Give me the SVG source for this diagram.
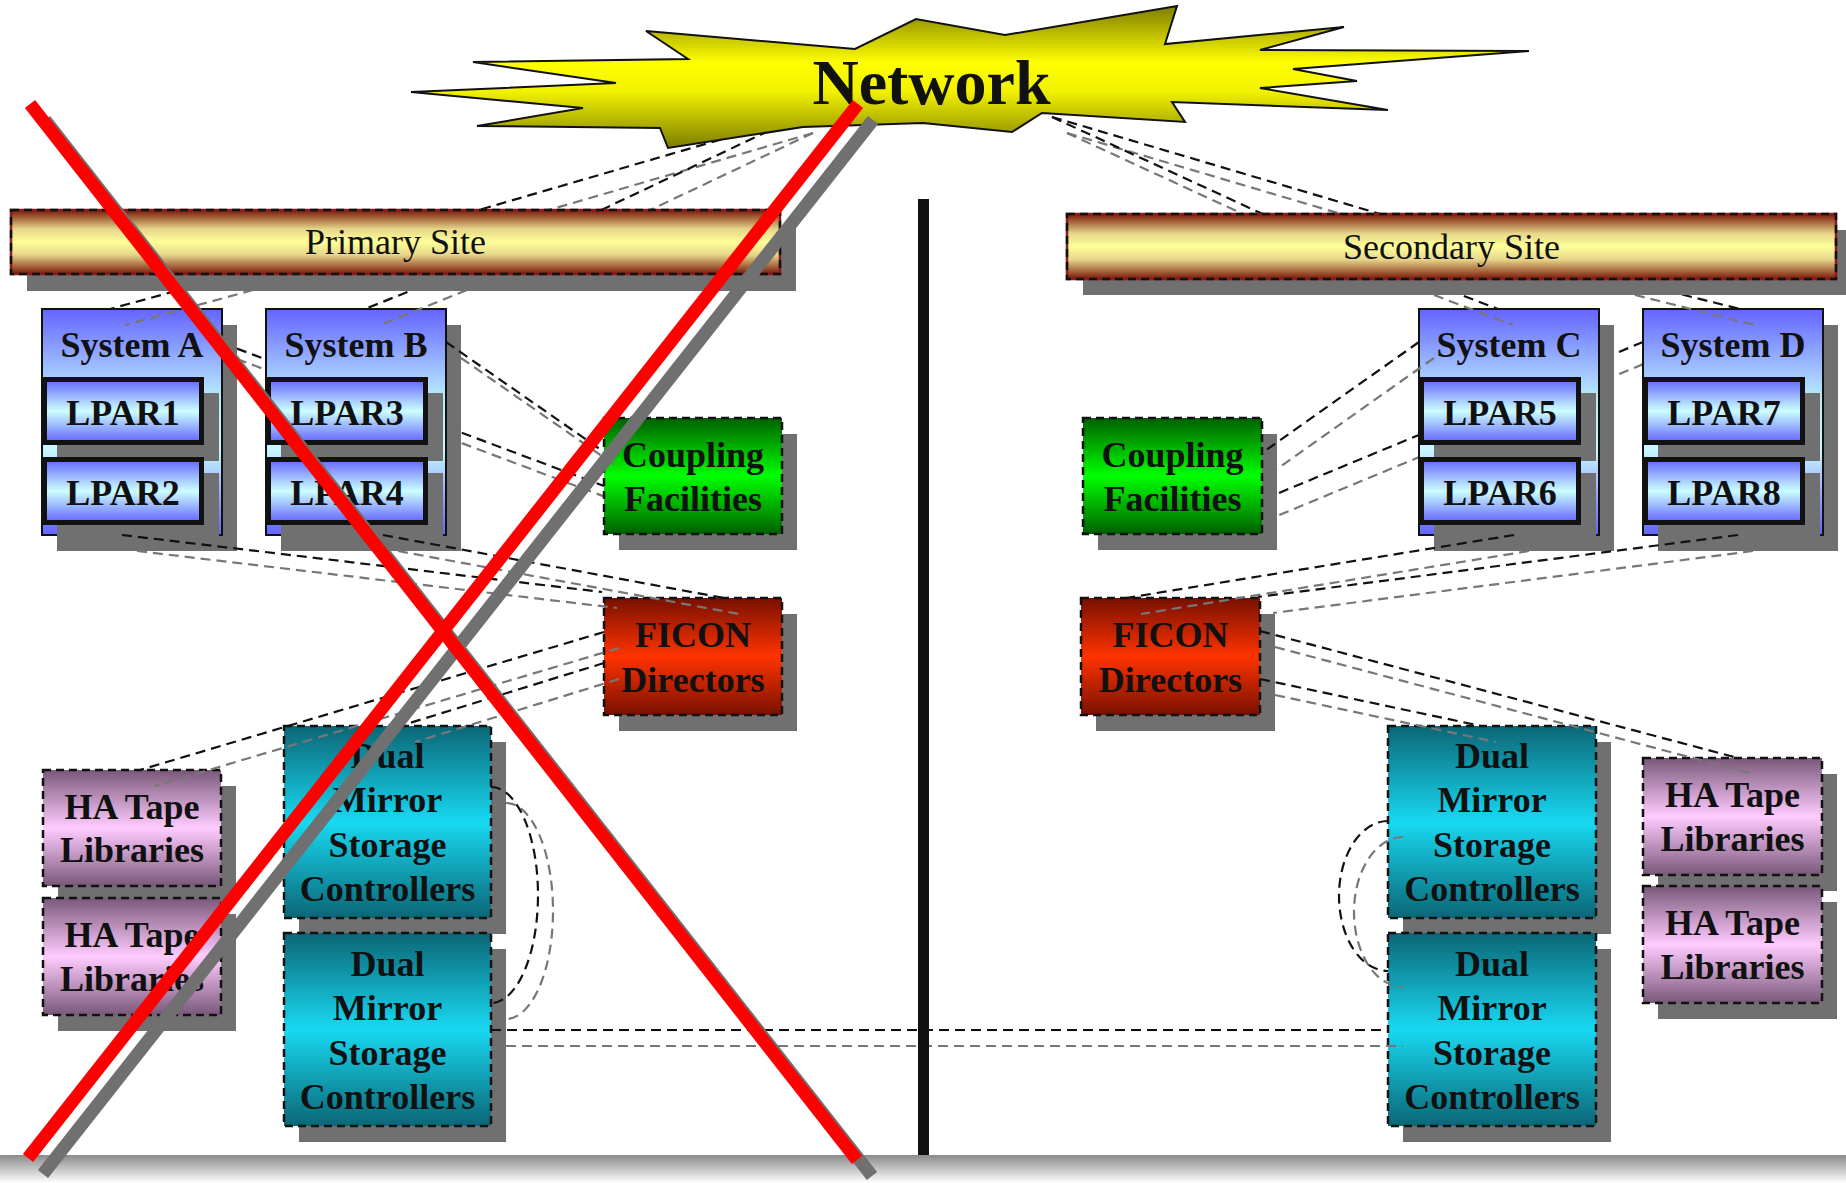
<svg xmlns="http://www.w3.org/2000/svg" width="1846" height="1183" viewBox="0 0 1846 1183">
<defs>
<linearGradient id="gSite" x1="0" y1="0" x2="0" y2="1"><stop offset="0" stop-color="#7a1808"/><stop offset="0.3" stop-color="#e6d68a"/><stop offset="0.5" stop-color="#ffff99"/><stop offset="0.7" stop-color="#e6d68a"/><stop offset="1" stop-color="#7a1808"/></linearGradient>
<linearGradient id="gNet" x1="0" y1="0" x2="0" y2="1"><stop offset="0" stop-color="#7d7d00"/><stop offset="0.4" stop-color="#ffff00"/><stop offset="0.6" stop-color="#f2f200"/><stop offset="1" stop-color="#7d7d00"/></linearGradient>
<linearGradient id="gSys" x1="0" y1="0" x2="0" y2="1"><stop offset="0" stop-color="#6464ff"/><stop offset="0.38" stop-color="#b8e8ff"/><stop offset="0.62" stop-color="#c8f8ff"/><stop offset="1" stop-color="#6464ff"/></linearGradient>
<linearGradient id="gLpar" x1="0" y1="0" x2="0" y2="1"><stop offset="0" stop-color="#6464ff"/><stop offset="0.5" stop-color="#ccffff"/><stop offset="1" stop-color="#6464ff"/></linearGradient>
<linearGradient id="gCf" x1="0" y1="0" x2="0" y2="1"><stop offset="0" stop-color="#006000"/><stop offset="0.5" stop-color="#00ff00"/><stop offset="1" stop-color="#006000"/></linearGradient>
<linearGradient id="gFicon" x1="0" y1="0" x2="0" y2="1"><stop offset="0" stop-color="#781000"/><stop offset="0.5" stop-color="#ff3300"/><stop offset="1" stop-color="#781000"/></linearGradient>
<linearGradient id="gTape" x1="0" y1="0" x2="0" y2="1"><stop offset="0" stop-color="#7a587a"/><stop offset="0.5" stop-color="#ffccff"/><stop offset="1" stop-color="#7a587a"/></linearGradient>
<linearGradient id="gDm" x1="0" y1="0" x2="0" y2="1"><stop offset="0" stop-color="#0b6676"/><stop offset="0.5" stop-color="#18d9f2"/><stop offset="1" stop-color="#0b6676"/></linearGradient>
<linearGradient id="gFloor" x1="0" y1="0" x2="0" y2="1"><stop offset="0" stop-color="#8a8a8a"/><stop offset="1" stop-color="#ffffff"/></linearGradient>
</defs>
<style>
.sh{fill:#707070}
.sys{stroke:#111;stroke-width:2;fill:url(#gSys)}
.lpar{stroke:#111;stroke-width:5;fill:url(#gLpar)}
.dash{stroke:#111;stroke-width:2.5;stroke-dasharray:8 5}
.cf{fill:url(#gCf)}
.ficon{fill:url(#gFicon)}
.tape{fill:url(#gTape)}
.dm{fill:url(#gDm)}
.siteb{fill:url(#gSite);stroke:#8b1a1a;stroke-width:2.5}
.t{font-family:"Liberation Serif","Times New Roman",serif;font-weight:bold;font-size:36px;fill:#111;text-anchor:middle}
.st{font-weight:normal}
.c{fill:none;stroke:#111;stroke-width:2.2;stroke-dasharray:10 6}
.cs{fill:none;stroke:#777;stroke-width:2.2;stroke-dasharray:10 6}
.x{stroke:#ff0000;stroke-width:13}
.xs{stroke:#707070;stroke-width:13}
</style>

<g id="connectors-back">
<g transform="translate(15,16)">
<path class="cs" d="M222,343 L604,486"/>
<path class="cs" d="M1643,342 L1262,500"/>
</g>
<path class="c" d="M222,343 L604,486"/>
<path class="c" d="M1643,342 L1262,500"/>
</g>

<g id="nodes">
<g id="system-a">
<rect class="sh" x="57" y="325" width="180" height="226"/>
<rect class="sys" x="42" y="309" width="180" height="226"/>
<text class="t" x="132" y="357">System A</text>
<g id="lpar1"><rect class="sh" x="57" y="393" width="162" height="68"/><rect class="lpar" x="44.5" y="379.5" width="157" height="63"/><text class="t" x="123" y="425">LPAR1</text></g>
<g id="lpar2"><rect class="sh" x="57" y="473" width="162" height="68"/><rect class="lpar" x="44.5" y="459.5" width="157" height="63"/><text class="t" x="123" y="505">LPAR2</text></g>
</g>
<g id="system-b">
<rect class="sh" x="281" y="325" width="180" height="226"/>
<rect class="sys" x="266" y="309" width="180" height="226"/>
<text class="t" x="356" y="357">System B</text>
<g id="lpar3"><rect class="sh" x="281" y="393" width="162" height="68"/><rect class="lpar" x="268.5" y="379.5" width="157" height="63"/><text class="t" x="347" y="425">LPAR3</text></g>
<g id="lpar4"><rect class="sh" x="281" y="473" width="162" height="68"/><rect class="lpar" x="268.5" y="459.5" width="157" height="63"/><text class="t" x="347" y="505">LPAR4</text></g>
</g>
<g id="system-c">
<rect class="sh" x="1434" y="325" width="180" height="226"/>
<rect class="sys" x="1419" y="309" width="180" height="226"/>
<text class="t" x="1509" y="357">System C</text>
<g id="lpar5"><rect class="sh" x="1434" y="393" width="162" height="68"/><rect class="lpar" x="1421.5" y="379.5" width="157" height="63"/><text class="t" x="1500" y="425">LPAR5</text></g>
<g id="lpar6"><rect class="sh" x="1434" y="473" width="162" height="68"/><rect class="lpar" x="1421.5" y="459.5" width="157" height="63"/><text class="t" x="1500" y="505">LPAR6</text></g>
</g>
<g id="system-d">
<rect class="sh" x="1658" y="325" width="180" height="226"/>
<rect class="sys" x="1643" y="309" width="180" height="226"/>
<text class="t" x="1733" y="357">System D</text>
<g id="lpar7"><rect class="sh" x="1658" y="393" width="162" height="68"/><rect class="lpar" x="1645.5" y="379.5" width="157" height="63"/><text class="t" x="1724" y="425">LPAR7</text></g>
<g id="lpar8"><rect class="sh" x="1658" y="473" width="162" height="68"/><rect class="lpar" x="1645.5" y="459.5" width="157" height="63"/><text class="t" x="1724" y="505">LPAR8</text></g>
</g>

<g id="cf-primary">
<rect class="sh" x="619" y="434" width="178" height="116"/>
<rect class="cf dash" x="604" y="418" width="178" height="116"/>
<text class="t" x="693" y="467">Coupling</text><text class="t" x="693" y="511">Facilities</text>
</g>
<g id="cf-secondary">
<rect class="sh" x="1098" y="434" width="179" height="116"/>
<rect class="cf dash" x="1083" y="418" width="179" height="116"/>
<text class="t" x="1172.5" y="467">Coupling</text><text class="t" x="1172.5" y="511">Facilities</text>
</g>
<g id="ficon-primary">
<rect class="sh" x="619" y="614" width="178" height="117"/>
<rect class="ficon dash" x="604" y="598" width="178" height="117"/>
<text class="t" x="693" y="647">FICON</text><text class="t" x="693" y="692">Directors</text>
</g>
<g id="ficon-secondary">
<rect class="sh" x="1096" y="614" width="179" height="117"/>
<rect class="ficon dash" x="1081" y="598" width="179" height="117"/>
<text class="t" x="1170.5" y="647">FICON</text><text class="t" x="1170.5" y="692">Directors</text>
</g>
<g id="tape-1">
<rect class="sh" x="58" y="786" width="178" height="116"/>
<rect class="tape dash" x="43" y="770" width="178" height="116"/>
<text class="t" x="132" y="819">HA Tape</text><text class="t" x="132" y="862">Libraries</text>
</g>
<g id="tape-2">
<rect class="sh" x="58" y="914" width="178" height="117"/>
<rect class="tape dash" x="43" y="898" width="178" height="117"/>
<text class="t" x="132" y="947">HA Tape</text><text class="t" x="132" y="991">Libraries</text>
</g>
<g id="tape-3">
<rect class="sh" x="1658" y="774" width="179" height="117"/>
<rect class="tape dash" x="1643" y="758" width="179" height="117"/>
<text class="t" x="1732.5" y="807">HA Tape</text><text class="t" x="1732.5" y="851">Libraries</text>
</g>
<g id="tape-4">
<rect class="sh" x="1658" y="902" width="179" height="117"/>
<rect class="tape dash" x="1643" y="886" width="179" height="117"/>
<text class="t" x="1732.5" y="935">HA Tape</text><text class="t" x="1732.5" y="979">Libraries</text>
</g>
<g id="dm-1">
<rect class="sh" x="299" y="742" width="207" height="192"/>
<rect class="dm dash" x="284" y="726" width="207" height="192"/>
<text class="t" x="387.5" y="768">Dual</text><text class="t" x="387.5" y="812">Mirror</text><text class="t" x="387.5" y="857">Storage</text><text class="t" x="387.5" y="901">Controllers</text>
</g>
<g id="dm-2">
<rect class="sh" x="299" y="949" width="207" height="193"/>
<rect class="dm dash" x="284" y="933" width="207" height="193"/>
<text class="t" x="387.5" y="976">Dual</text><text class="t" x="387.5" y="1020">Mirror</text><text class="t" x="387.5" y="1065">Storage</text><text class="t" x="387.5" y="1109">Controllers</text>
</g>
<g id="dm-3">
<rect class="sh" x="1403" y="742" width="208" height="192"/>
<rect class="dm dash" x="1388" y="726" width="208" height="192"/>
<text class="t" x="1492" y="768">Dual</text><text class="t" x="1492" y="812">Mirror</text><text class="t" x="1492" y="857">Storage</text><text class="t" x="1492" y="901">Controllers</text>
</g>
<g id="dm-4">
<rect class="sh" x="1403" y="949" width="208" height="193"/>
<rect class="dm dash" x="1388" y="933" width="208" height="193"/>
<text class="t" x="1492" y="976">Dual</text><text class="t" x="1492" y="1020">Mirror</text><text class="t" x="1492" y="1065">Storage</text><text class="t" x="1492" y="1109">Controllers</text>
</g>
</g>

<g id="connectors">
<g transform="translate(15,16)">
<path class="cs" d="M798,117 L472,212"/>
<path class="cs" d="M798,117 L597,212"/>
<path class="cs" d="M1052,117 L1267,216"/>
<path class="cs" d="M1052,117 L1387,216"/>
<path class="cs" d="M238,274 L110,309"/>
<path class="cs" d="M452,274 L365,309"/>
<path class="cs" d="M1419,279 L1498,309"/>
<path class="cs" d="M1620,279 L1740,309"/>
<path class="cs" d="M446,342 L604,452"/>
<path class="cs" d="M1419,342 L1262,453"/>
<path class="cs" d="M122,535 L602,592"/>
<path class="cs" d="M383,535 L724,598"/>
<path class="cs" d="M1514,535 L1126,598"/>
<path class="cs" d="M1738,535 L1258,597"/>
<path class="cs" d="M604,632 L140,770"/>
<path class="cs" d="M604,663 L400,726"/>
<path class="cs" d="M1260,631 L1738,758"/>
<path class="cs" d="M1260,679 L1481,726"/>
<path class="cs" d="M491,787 A47,108 0 0 1 491,1003"/>
<path class="cs" d="M1388,821 A49,75 0 0 0 1388,971"/>
<path class="cs" d="M491,1030 L1388,1030"/>
</g>
<path class="c" d="M798,117 L472,212"/>
<path class="c" d="M798,117 L597,212"/>
<path class="c" d="M1052,117 L1267,216"/>
<path class="c" d="M1052,117 L1387,216"/>
<path class="c" d="M238,274 L110,309"/>
<path class="c" d="M452,274 L365,309"/>
<path class="c" d="M1419,279 L1498,309"/>
<path class="c" d="M1620,279 L1740,309"/>
<path class="c" d="M446,342 L604,452"/>
<path class="c" d="M1419,342 L1262,453"/>
<path class="c" d="M122,535 L602,592"/>
<path class="c" d="M383,535 L724,598"/>
<path class="c" d="M1514,535 L1126,598"/>
<path class="c" d="M1738,535 L1258,597"/>
<path class="c" d="M604,632 L140,770"/>
<path class="c" d="M604,663 L400,726"/>
<path class="c" d="M1260,631 L1738,758"/>
<path class="c" d="M1260,679 L1481,726"/>
<path class="c" d="M491,787 A47,108 0 0 1 491,1003"/>
<path class="c" d="M1388,821 A49,75 0 0 0 1388,971"/>
<path class="c" d="M491,1030 L1388,1030"/>
</g>

<g id="primary-site">
<rect class="sh" x="27" y="227" width="769" height="64"/>
<rect class="siteb" x="11" y="210" width="769" height="64"/>
<rect class="dash" fill="none" x="11" y="210" width="769" height="64"/>
<text class="t st" x="395.5" y="254">Primary Site</text>
</g>
<g id="secondary-site">
<rect class="sh" x="1083" y="230" width="769" height="65"/>
<rect class="siteb" x="1067" y="214" width="769" height="65"/>
<rect class="dash" fill="none" x="1067" y="214" width="769" height="65"/>
<text class="t st" x="1451.5" y="259">Secondary Site</text>
</g>
<g id="network">
<polygon fill="url(#gNet)" stroke="#111" stroke-width="2" points="411,92 616,83 473,62 688,59 646,31 855,49 916,19 1005,35 1177,6 1165,44 1344,27 1260,50 1529,51 1293,69 1357,81 1260,88 1388,110 1172,102 1185,122 1042,113 1012,132 923,123 803,127 668,148 660,128 477,126 583,108"/>
<text class="t" x="931.5" y="104" style="font-size:64px">Network</text>
</g>

<rect id="divider" x="918" y="199" width="11" height="961" fill="#111"/>
<rect id="floor" x="0" y="1155" width="1846" height="28" fill="url(#gFloor)"/>

<g id="cross">
<line class="xs" x1="43" y1="1174" x2="873" y2="120"/>
<line class="xs" x1="45" y1="120" x2="872" y2="1176"/>
<line class="x" x1="28" y1="1158" x2="858" y2="104"/>
<line class="x" x1="30" y1="104" x2="857" y2="1160"/>
</g>
</svg>
